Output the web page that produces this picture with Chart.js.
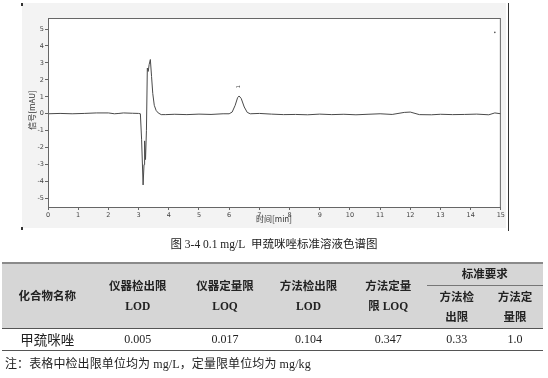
<!DOCTYPE html>
<html>
<head>
<meta charset="utf-8">
<script src="https://cdn.jsdelivr.net/npm/chart.js@4.4.1/dist/chart.umd.min.js"></script>
<style>
  body { margin: 0; width: 548px; height: 378px; background: #fff; position: relative; overflow: hidden;
         font-family: "Liberation Serif", "Noto Sans CJK SC", serif; color: #222; }
  #panel { position: absolute; left: 22px; top: 3px; width: 484px; height: 225px; background: #f3f3f3; }
  #rline { position: absolute; left: 508px; top: 3px; width: 1px; height: 228px; background: #333; }
  .corner { position: absolute; left: 21px; width: 2px; height: 3px; background: #333; }
  #caption { position: absolute; top: 235px; left: 0; width: 548px; text-align: center; font-size: 11.5px; }
  table { position: absolute; left: 2px; top: 262px; width: 541px; border-collapse: collapse; table-layout: fixed; }
  th { background: #d6d6d6; font-weight: bold; font-size: 11.5px; line-height: 20px; text-align: center; padding: 0; }
  td { text-align: center; font-size: 12px; height: 21px; padding: 0; }
  thead { border-top: 2px solid #8a8a8a; border-bottom: 1.5px solid #555; }
  tbody { border-bottom: 1.5px solid #555; }
  .sub { border-bottom: 1px solid #777; }
  #note { position: absolute; left: 5px; top: 354px; font-size: 12px; letter-spacing: 0.1px; }
</style>
</head>
<body>
<div id="panel"><canvas id="chart" width="484" height="225"></canvas></div>
<div id="rline"></div>
<div class="corner" style="top:3px"></div>
<div class="corner" style="top:227px"></div>
<div id="caption">图 3-4 0.1 mg/L&nbsp; 甲巯咪唑标准溶液色谱图</div>
<table>
  <colgroup>
    <col style="width:90.5px"><col style="width:90.5px"><col style="width:84px"><col style="width:83px">
    <col style="width:76.5px"><col style="width:60.5px"><col style="width:56px">
  </colgroup>
  <thead>
    <tr style="height:22px">
      <th rowspan="2">化合物名称</th>
      <th rowspan="2">仪器检出限<br>LOD</th>
      <th rowspan="2">仪器定量限<br>LOQ</th>
      <th rowspan="2">方法检出限<br>LOD</th>
      <th rowspan="2">方法定量<br>限 LOQ</th>
      <th colspan="2" class="sub">标准要求</th>
    </tr>
    <tr style="height:43px">
      <th>方法检<br>出限</th>
      <th>方法定<br>量限</th>
    </tr>
  </thead>
  <tbody>
    <tr>
      <td style="font-size:13.5px">甲巯咪唑</td>
      <td>0.005</td><td>0.017</td><td>0.104</td><td>0.347</td><td>0.33</td><td>1.0</td>
    </tr>
  </tbody>
</table>
<div id="note">注：表格中检出限单位均为 mg/L，定量限单位均为 mg/kg</div>
<script>
// retention time [min] and signal [mAU]
const times = [0, 0.4, 0.8, 1.2, 1.6, 2.0, 2.2, 2.35, 2.5, 2.8, 3.0, 3.06, 3.1, 3.15, 3.18, 3.2, 3.23, 3.26,
  3.29, 3.32, 3.35, 3.39, 3.43, 3.47, 3.52, 3.58, 3.65, 3.75, 3.9, 4.2, 4.6, 5.0, 5.4, 5.8, 6.0, 6.1, 6.2,
  6.28, 6.33, 6.4, 6.5, 6.6, 6.7, 7.0, 7.4, 7.8, 8.2, 8.6, 9.0, 9.4, 9.8, 10.2, 10.6, 11.0, 11.4, 11.8,
  12.0, 12.3, 12.7, 13.0, 13.4, 13.8, 14.2, 14.6, 14.8, 15.0];
const signal = [0, 0.02, 0.0, 0.02, 0.05, 0.05, 0.0, 0.02, 0.05, 0.03, 0.02, 0, -1.5, -4.2, -3.0, -1.6, -2.7, -1.0,
  2.7, 2.5, 2.9, 3.2, 2.2, 1.2, 0.5, 0.2, 0.05, -0.05, -0.05, -0.03, -0.05, -0.02, -0.04, 0.0, 0.0, 0.1, 0.5,
  0.95, 1.05, 0.9, 0.4, 0.08, 0.0, 0.02, -0.02, -0.05, -0.04, -0.06, -0.02, -0.05, -0.03, -0.06, -0.03, 0.0,
  -0.04, 0.08, 0.1, -0.05, -0.06, -0.03, -0.05, -0.04, -0.02, -0.06, 0.05, 0.0];
const artifact = [{ x: 14.8, y: 4.8 }];
const peakLabels = [{ x: 6.33, y: 1.6, text: '1' }];
const yTicks = [-5, -4, -3, -2, -1, 0, 1, 2, 3, 4, 5];
const xTicks = [0, 1, 2, 3, 4, 5, 6, 7, 8, 9, 10, 11, 12, 13, 14, 15];

const tickFont = { family: 'DejaVu Sans', size: 6.5 };

const extras = {
  id: 'extras',
  beforeDraw(chart) {
    const { ctx, chartArea: a } = chart;
    ctx.save();
    ctx.fillStyle = '#fff';
    ctx.fillRect(a.left, a.top, a.right - a.left, a.bottom - a.top);
    ctx.restore();
  },
  afterDraw(chart) {
    const { ctx, chartArea: a, scales } = chart;
    ctx.save();
    ctx.strokeStyle = '#666';
    ctx.lineWidth = 1;
    ctx.strokeRect(a.left + 0.5, a.top + 0.5, a.right - a.left - 1, a.bottom - a.top);
    ctx.fillStyle = '#333';
    ctx.font = '8px "Noto Sans CJK SC"';
    ctx.textAlign = 'center';
    ctx.textBaseline = 'middle';
    ctx.fillText('时间[min]', 252, 216);
    ctx.translate(10, 107);
    ctx.rotate(-Math.PI / 2);
    ctx.fillText('信号[mAU]', 0, 0);
    ctx.restore();
    peakLabels.forEach(p => {
      ctx.save();
      ctx.translate(scales.x.getPixelForValue(p.x), scales.y.getPixelForValue(p.y));
      ctx.rotate(-Math.PI / 2);
      ctx.font = '5px "DejaVu Sans"';
      ctx.fillStyle = '#444';
      ctx.textAlign = 'center';
      ctx.textBaseline = 'middle';
      ctx.fillText(p.text, 0, 0);
      ctx.restore();
    });
  }
};

new Chart(document.getElementById('chart'), {
  type: 'line',
  data: {
    datasets: [{
      data: times.map((t, i) => ({ x: t, y: signal[i] })),
      borderColor: '#4a4a4a',
      borderWidth: 1,
      pointRadius: 0,
      tension: 0
    }, {
      type: 'scatter',
      data: artifact,
      pointRadius: 0.8,
      backgroundColor: '#555',
      borderWidth: 0
    }]
  },
  options: {
    responsive: false,
    animation: false,
    layout: { padding: { top: 15, right: 4, left: 0, bottom: 0 } },
    plugins: { legend: { display: false }, tooltip: { enabled: false } },
    scales: {
      x: {
        type: 'linear', min: 0, max: 15,
        afterBuildTicks: s => { s.ticks = xTicks.map(v => ({ value: v })); },
        afterFit: s => { s.height = 21; },
        grid: { drawOnChartArea: false, tickLength: 3, color: '#666' },
        border: { color: '#666' },
        ticks: { font: tickFont, color: '#444', padding: 1, maxRotation: 0 }
      },
      y: {
        type: 'linear', min: -5.5, max: 5.65,
        afterBuildTicks: s => { s.ticks = yTicks.map(v => ({ value: v })); },
        afterFit: s => { s.width = 26; },
        grid: { drawOnChartArea: false, tickLength: 3, color: '#666' },
        border: { color: '#666' },
        ticks: { font: tickFont, color: '#444', padding: 1 }
      }
    }
  },
  plugins: [extras]
});
</script>
</body>
</html>
